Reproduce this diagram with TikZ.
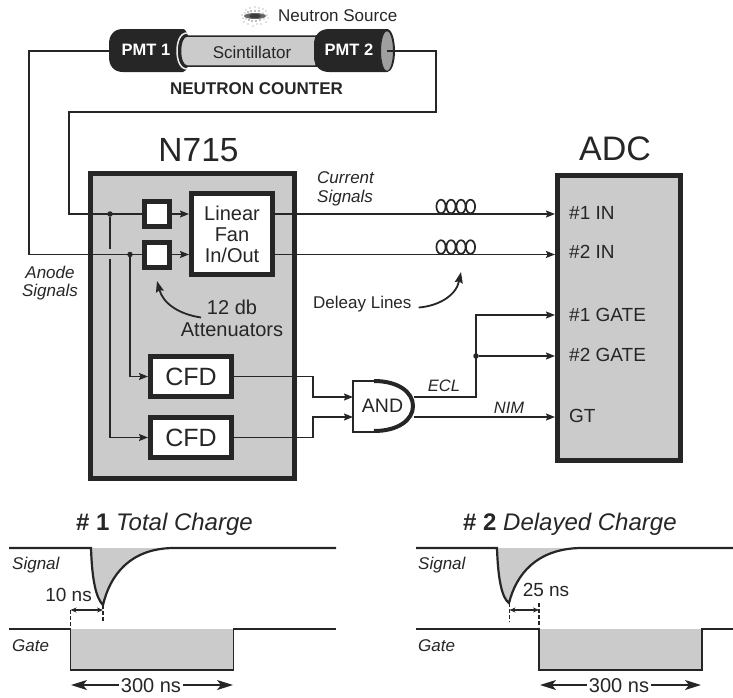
\documentclass[tikz,border=0pt]{standalone}
\usepackage{fontspec}
\setmainfont{Liberation Sans}
\usetikzlibrary{arrows.meta,calc}
\definecolor{ink}{HTML}{262626}
\definecolor{panel}{HTML}{CBCBCB}
\tikzset{
  wire/.style={draw=ink,line width=1.5pt},
  sig/.style={wire,-{Stealth[length=9pt,width=7pt,inset=1.5pt]}},
  panelbox/.style={draw=ink,fill=panel,line width=5pt,rectangle,inner sep=0pt},
  whitebox/.style={draw=ink,fill=white,line width=5pt,rectangle,inner sep=0pt,text=ink,align=center},
  lab/.style={text=ink,inner sep=0pt,align=center,font=\fontsize{#1}{#1}\selectfont},
  lab/.default=17,
  ital/.style={text=ink,inner sep=0pt,align=center,font=\fontsize{17}{18.5}\selectfont\itshape},
  dot/.style={circle,fill=ink,inner sep=0pt,minimum size=5.5pt},
  trace/.style={draw=ink,line width=1.7pt},
  pulse/.style={draw=ink,line width=2.2pt},
  guide/.style={draw=ink,line width=1.2pt,dash pattern=on 3.5pt off 2.5pt},
  dimen/.style={draw=ink,line width=1.1pt,{Stealth[length=6pt,width=5pt]}-{Stealth[length=6pt,width=5pt]}},
  span/.style={draw=ink,line width=1.5pt,{Stealth[length=16pt,width=10pt,inset=4pt]}-{Stealth[length=16pt,width=10pt,inset=4pt]}},
  note/.style={draw=ink,line width=1.8pt,-{Stealth[length=11pt,width=8pt,inset=1.5pt]}},
  coil/.style={draw=ink,line width=1.7pt}
}
\begin{document}
\begin{tikzpicture}[x=1pt,y=-1pt]
\useasboundingbox (0,0) rectangle (733,697);
% ---- neutron counter
\fill[ink] (123,29) .. controls (113,29) and (109,36) .. (109,44) -- (109,57) .. controls (109,65) and (113,72) .. (123,72) -- (183,72) .. controls (187,72) and (190,62) .. (190,51) .. controls (190,40) and (187,29) .. (183,29) -- cycle;
\draw[gray!15,line width=1.5pt] (187,33) .. controls (180,33) and (177,42) .. (177,51) .. controls (177,60) and (180,69) .. (187,69);
\filldraw[fill=panel,draw=ink,line width=1.5pt] (187,36) .. controls (183,36) and (180.5,43) .. (180.5,51) .. controls (180.5,59) and (183,66) .. (187,66) -- (316,66) -- (316,36) -- cycle;
\fill[ink] (329,29) .. controls (319,29) and (314,36) .. (314,44) -- (314,57) .. controls (314,65) and (319,72) .. (329,72) -- (387,72) .. controls (392,72) and (395,62) .. (395,51) .. controls (395,40) and (392,29) .. (387,29) -- cycle;
\filldraw[fill=gray!75,draw=ink,line width=1pt] (387,51) ellipse[x radius=6.5pt,y radius=20.5pt];
\node[text=white,inner sep=0pt,font=\fontsize{16.5}{17}\selectfont\bfseries] (pmtA) at (146,50) {PMT 1};
\node[text=white,inner sep=0pt,font=\fontsize{16.5}{17}\selectfont\bfseries] (pmtB) at (349,50) {PMT 2};
\node[lab=17] (scint) at (252,52) {Scintillator};
\node[text=ink,inner sep=0pt,font=\fontsize{17}{17}\selectfont\bfseries] (counter) at (256.5,89) {NEUTRON COUNTER};
\node[lab=17,anchor=west] (source) at (278,15.5) {Neutron Source};
% neutron source spray
\fill[ink!70] (255,16) ellipse[x radius=11pt,y radius=3pt];
\fill[ink!90] (255,16) ellipse[x radius=6pt,y radius=2pt];
\foreach \dx/\dy/\r in {-13/-1/.6,-12/2/.6,-10/-3/.7,-9/3/.7,-7/-4/.8,-6/4/.8,-4/-5/.8,-3/5/.8,0/-5/.8,1/5/.8,4/-5/.8,5/4/.8,8/-3/.7,9/3/.7,12/-1/.6,13/2/.6,-9/-6/.55,-5/-8/.55,0/-9/.55,4/-8/.55,8/-7/.55,11/-5/.55,-11/6/.55,-7/8/.55,-2/10/.55,2/8/.55,6/8/.55,11/6/.55}
  {\fill[ink!60] (255+\dx,16+\dy) circle[radius=\r pt];}
\coordinate (pA) at (109,51);
\coordinate (pB) at (387,51);
% ---- N715
\node[panelbox,minimum width=204pt,minimum height=305pt] (n715) at (192,326) {};
\node[lab=33.5] (n715t) at (198.5,150) {N715};
\node[whitebox,minimum width=25pt,minimum height=25pt] (attA) at (157,214) {};
\node[whitebox,minimum width=25pt,minimum height=25pt] (attB) at (157,254.5) {};
\node[whitebox,minimum width=81pt,minimum height=81pt,font=\fontsize{20}{21}\selectfont] (fan) at (232,234) {Linear\\Fan\\In/Out};
\node[whitebox,minimum width=81pt,minimum height=40pt,font=\fontsize{25}{25}\selectfont] (cfdA) at (191,376.5) {CFD};
\node[whitebox,minimum width=81pt,minimum height=40pt,font=\fontsize{25}{25}\selectfont] (cfdB) at (191,437.5) {CFD};
% ---- ADC
\node[panelbox,minimum width=123pt,minimum height=285pt] (adc) at (619,318) {};
\node[lab=34] (adct) at (615,149) {ADC};
\node[lab=19,anchor=west] (inA) at (569,213) {\#1 IN};
\node[lab=19,anchor=west] (inB) at (569,252) {\#2 IN};
\node[lab=19,anchor=west] (gateA) at (569,315) {\#1 GATE};
\node[lab=19,anchor=west] (gateB) at (569,355) {\#2 GATE};
\node[lab=19,anchor=west] (gt) at (569,416) {GT};
% ---- AND gate
\coordinate (andI) at (353,397);
\coordinate (andII) at (353,417);
\coordinate (andE) at (414,397);
\coordinate (andN) at (414,417);
\filldraw[fill=white,draw=ink,line width=2pt] (374,380.5) -- (353,380.5) -- (353,431.5) -- (374,431.5);
\fill[white] (374,381) .. controls (398,381) and (413,392) .. (413,406) .. controls (413,420) and (398,431) .. (374,431) -- cycle;
\draw[ink,line width=4pt] (374,381) .. controls (398,381) and (413,392) .. (413,406) .. controls (413,420) and (398,431) .. (374,431);
\node[lab=19.5] (andt) at (382.5,406) {AND};
% ---- wires
\draw[wire] (pA) -- (29,51) |- (attB.west);
\draw[wire] (pB) -- (436,51) -- (436,112) -- (69,112) |- (attA.west);
\node[dot] (dotA) at (110,214) {};
\node[dot] (dotB) at (130,254.5) {};
\coordinate (gapT) at (110,249);
\coordinate (gapB) at (110,259);
\draw[wire] (dotA) -- (gapT);
\draw[sig] (gapB) |- (cfdB.west);
\draw[sig] (dotB) |- (cfdA.west);
\draw[sig] (attA.east) -- (fan.west |- attA.east);
\draw[sig] (attB.east) -- (fan.west |- attB.east);
\draw[sig] (fan.east |- attA.east) -- (adc.west |- attA.east);
\draw[sig] (fan.east |- attB.east) -- (adc.west |- attB.east);
\foreach \cx in {441,451,461,470.5}{
  \draw[coil] (\cx,206.5) ellipse[x radius=4.6pt,y radius=6.8pt];
  \draw[coil] (\cx,247) ellipse[x radius=4.6pt,y radius=6.8pt];
}
\draw[sig] (cfdA.east) -- (313,376.5) |- (andI);
\draw[sig] (cfdB.east) -- (313,437.5) |- (andII);
\coordinate (adcGA) at (adc.west |- 0,315);
\coordinate (adcGB) at (adc.west |- 0,356);
\coordinate (adcGT) at (adc.west |- 0,417);
\node[dot] (dotC) at (476,356) {};
\draw[sig] (andE) -- (476,397) |- (adcGA);
\draw[wire] (476,397) -- (dotC);
\draw[sig] (dotC) -- (adcGB);
\draw[sig] (andN) -- (adcGT);
% ---- labels
\node[ital,anchor=west,align=left] (cur) at (317,189) {Current\\Signals};
\node[ital] (ano) at (50,283) {Anode\\Signals};
\node[ital,font=\fontsize{16.5}{17}\selectfont\itshape] (ecl) at (444,386) {ECL};
\node[ital,font=\fontsize{16.5}{17}\selectfont\itshape] (nim) at (509,408) {NIM};
\node[lab=20,font=\fontsize{20}{22}\selectfont] (att) at (232,318) {12 db\\Attenuators};
\node[lab=17,anchor=west] (dl) at (313,304.5) {Deleay Lines};
\coordinate (attP) at (157,281);
\coordinate (dlP) at (461,272);
\draw[note] (201,317.5) .. controls (178,314) and (163,303) .. (attP);
\draw[note] (dl.east) ++(7,3) .. controls (438,306) and (456,296) .. (dlP);
% ---- timing #1
\node[text=ink,inner sep=0pt,anchor=west,font=\fontsize{24}{24}\selectfont] (tA) at (76,524) {\textbf{\# 1} \textit{Total Charge}};
\node[ital,anchor=west] (sA) at (12,565) {Signal};
\node[ital,anchor=west] (gA) at (12,646) {Gate};
\fill[panel] (91,548) .. controls (92,580) and (96,598) .. (103,605) .. controls (110,575) and (130,549) .. (172,548) -- cycle;
\fill[panel] (70.5,629) rectangle (233.5,670);
\draw[pulse] (9,548) -- (91,548) .. controls (92,580) and (96,598) .. (103,605) .. controls (110,575) and (130,549) .. (172,548) -- (336,548);
\draw[trace] (9,629) -- (70.5,629) -- (70.5,670) -- (233.5,670) -- (233.5,629) -- (336,629);
\coordinate (guideAa) at (70.5,610);
\coordinate (guideAb) at (103,610);
\draw[guide] (guideAa) -- (70.5,627);
\draw[guide] (103,605) -- (103,622);
\draw[dimen] (guideAa) -- (guideAb);
\node[lab=19,anchor=east] (tenns) at (92,595) {10 ns};
\coordinate (spA) at (71,685);
\coordinate (spB) at (233,685);
\draw[span] (spA) -- (spB);
\node[lab=20,fill=white,inner xsep=2pt,inner ysep=1pt] (spant) at (151,686) {300 ns};
% ---- timing #2
\node[text=ink,inner sep=0pt,anchor=west,font=\fontsize{24}{24}\selectfont] (tB) at (463,524) {\textbf{\# 2} \textit{Delayed Charge}};
\node[ital,anchor=west] (sB) at (418,565) {Signal};
\node[ital,anchor=west] (gB) at (418,646) {Gate};
\fill[panel] (497,548) .. controls (498,580) and (502,598) .. (509,603) .. controls (516,575) and (536,549) .. (580,548) -- cycle;
\fill[panel] (539,629) rectangle (702,670);
\draw[pulse] (416,548) -- (497,548) .. controls (498,580) and (502,598) .. (509,603) .. controls (516,575) and (536,549) .. (580,548) -- (733,548);
\draw[trace] (416,629) -- (539,629) -- (539,670) -- (702,670) -- (702,629) -- (733,629);
\coordinate (guideBa) at (509.5,610);
\coordinate (guideBb) at (539,610);
\draw[guide] (509.5,603) -- (509.5,622);
\draw[guide] (539,603) -- (539,627);
\draw[dimen] (guideBa) -- (guideBb);
\node[lab=19] (tfns) at (546,590) {25 ns};
\coordinate (spC) at (540,685);
\coordinate (spD) at (701,685);
\draw[span] (spC) -- (spD);
\node[lab=20,fill=white,inner xsep=2pt,inner ysep=1pt] (spantb) at (619,686) {300 ns};
\end{tikzpicture}
\end{document}
